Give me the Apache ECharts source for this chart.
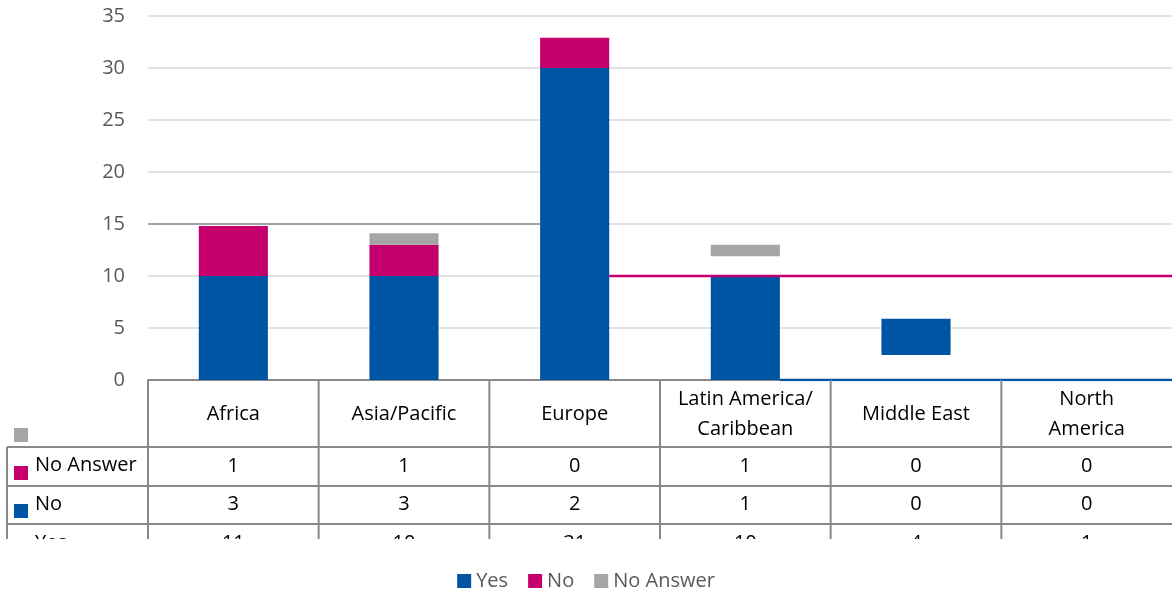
<!DOCTYPE html>
<html>
<head>
<meta charset="utf-8">
<script src="https://cdn.jsdelivr.net/npm/echarts@6/dist/echarts.min.js"></script>
<style>
html,body{margin:0;padding:0;background:#fff;}
#chart{width:1172px;height:590px;}
</style>
</head>
<body>
<div id="chart"></div>
<script>
// ---- Data ----
const categories = ['Africa', 'Asia/Pacific', 'Europe', 'Latin America/\nCaribbean', 'Middle East', 'North\nAmerica'];
const seriesNames = ['Yes', 'No', 'No Answer'];
// Bar segments as drawn in the picture: [bottom, top] per category (null = not drawn)
const yesBottom = [0, 0, 0, 0, 2.4, null];
const yesTop    = [10, 10, 30, 10, 5.9, null];
const noBottom  = [10, 10, 30, null, null, null];
const noTop     = [14.8, 13, 32.9, null, null, null];
const naBottom  = [null, 13, null, 11.9, null, null];
const naTop     = [null, 14.1, null, 13, null, null];
// Data table values
const tableNoAnswer = [1, 1, 0, 1, 0, 0];
const tableNo       = [3, 3, 2, 1, 0, 0];
const tableYes      = [11, 10, 31, 10, 4, 1];
// Reference lines seen in the picture
const noLineLevel = 10;
const darkGridLevel = 15;
const yMax = 35, yStep = 5;

const COLORS = { yes: '#0054A4', no: '#C5006E', na: '#A6A6A6' };
const FONT = "'Open Sans', sans-serif";
const BAR = 0.405; // bar width in category units

function segData(lo, hi) {
  const out = [];
  lo.forEach((b, i) => { if (b !== null && hi[i] !== null) out.push([i, b, hi[i]]); });
  return out;
}
function renderBar(color) {
  return function (params, api) {
    const i = api.value(0);
    const p0 = api.coord([i - BAR / 2, api.value(1)]);
    const p1 = api.coord([i + BAR / 2, api.value(2)]);
    return {
      type: 'rect',
      shape: { x: p0[0], y: p1[1], width: p1[0] - p0[0], height: p0[1] - p1[1] },
      style: { fill: color }
    };
  };
}

const chart = echarts.init(document.getElementById('chart'), null, { renderer: 'canvas' });
const n = categories.length;
const option = {
  animation: false,
  textStyle: { fontFamily: FONT },
  grid: { left: 148, right: 0, top: 16, bottom: 210 },
  xAxis: {
    type: 'value', min: -0.5, max: n - 0.5,
    axisLine: { show: true, lineStyle: { color: '#898989', width: 2 } },
    axisTick: { show: false }, axisLabel: { show: false }, splitLine: { show: false }
  },
  yAxis: {
    type: 'value', min: 0, max: yMax, interval: yStep,
    axisLine: { show: false }, axisTick: { show: false },
    axisLabel: { color: '#595959', fontSize: 20, fontFamily: FONT, margin: 23 },
    splitLine: { lineStyle: { color: '#d9d9d9', width: 1.5 } }
  },
  legend: {
    data: seriesNames, top: 566, left: 'center',
    icon: 'rect', itemWidth: 14, itemHeight: 14, itemGap: 20,
    textStyle: { color: '#595959', fontSize: 20, fontFamily: FONT }
  },
  series: [
    { name: 'darkGrid', type: 'line', silent: true, symbol: 'none', z: 1,
      lineStyle: { color: '#8c8c8c', width: 1.5 },
      data: [[-0.5, darkGridLevel], [2 - BAR / 2, darkGridLevel]] },
    { name: 'Yes', type: 'custom', renderItem: renderBar(COLORS.yes), itemStyle: { color: COLORS.yes },
      encode: { x: 0, y: [1, 2] }, data: segData(yesBottom, yesTop), z: 2 },
    { name: 'No', type: 'custom', renderItem: renderBar(COLORS.no), itemStyle: { color: COLORS.no },
      encode: { x: 0, y: [1, 2] }, data: segData(noBottom, noTop), z: 2 },
    { name: 'No Answer', type: 'custom', renderItem: renderBar(COLORS.na), itemStyle: { color: COLORS.na },
      encode: { x: 0, y: [1, 2] }, data: segData(naBottom, naTop), z: 2 },
    { name: 'noLine', type: 'line', silent: true, symbol: 'none', z: 3,
      lineStyle: { color: COLORS.no, width: 2.5 },
      data: [[2 + BAR / 2, noLineLevel], [n - 0.5, noLineLevel]] },
    { name: 'yesAxis', type: 'line', silent: true, symbol: 'none', z: 3,
      lineStyle: { color: COLORS.yes, width: 2.5 },
      data: [[3 + BAR / 2, 0], [n - 0.5, 0]] }
  ]
};
chart.setOption(option);

// ---- Data table drawn from the axis scale ----
function buildTable() {
  const W = chart.getWidth();
  const y0 = chart.convertToPixel({ gridIndex: 0 }, [0, 0])[1];
  const xAt = v => chart.convertToPixel({ gridIndex: 0 }, [v, 0])[0];
  const headBottom = y0 + 67, r1 = headBottom + 39, r2 = r1 + 38, cut = r2 + 15;
  const leftX = 7;
  const lineStyle = { stroke: '#898989', lineWidth: 2 };
  const els = [];
  [headBottom, r1, r2].forEach(y => els.push({ type: 'line', shape: { x1: leftX, y1: y, x2: W, y2: y }, style: lineStyle, z: 10 }));
  els.push({ type: 'line', shape: { x1: leftX, y1: headBottom, x2: leftX, y2: cut }, style: lineStyle, z: 10 });
  for (let k = 0; k < n; k++) {
    const bx = xAt(k - 0.5);
    els.push({ type: 'line', shape: { x1: bx, y1: y0, x2: bx, y2: cut }, style: lineStyle, z: 10 });
  }
  const txt = (t, x, y, align, color) => ({
    type: 'text', x: x, y: y, z: 10,
    style: { text: t, font: '20px ' + FONT, fill: color || '#000', align: align || 'center', verticalAlign: 'middle', lineHeight: 30 }
  });
  categories.forEach((c, i) => {
    const cx = xAt(i);
    els.push(txt(c, cx, y0 + 34));
    els.push(txt(String(tableNoAnswer[i]), cx, headBottom + 19));
    els.push(txt(String(tableNo[i]), cx, r1 + 18));
    els.push(txt(String(tableYes[i]), cx, r2 + 19));
  });
  els.push(txt('No Answer', 35, headBottom + 18, 'left'));
  els.push(txt('No', 35, r1 + 18, 'left'));
  els.push(txt('Yes', 35, r2 + 19, 'left'));
  const key = (y, color) => ({ type: 'rect', z: 10, shape: { x: 14, y: y, width: 14, height: 14 }, style: { fill: color } });
  els.push(key(headBottom - 19, COLORS.na));
  els.push(key(headBottom + 19, COLORS.no));
  els.push(key(r1 + 18, COLORS.yes));
  // the picture crops the last row
  els.push({ type: 'rect', z: 20, shape: { x: 0, y: cut, width: W, height: 20 }, style: { fill: '#fff' } });
  chart.setOption({ graphic: { elements: els } });
}
buildTable();
</script>
</body>
</html>
